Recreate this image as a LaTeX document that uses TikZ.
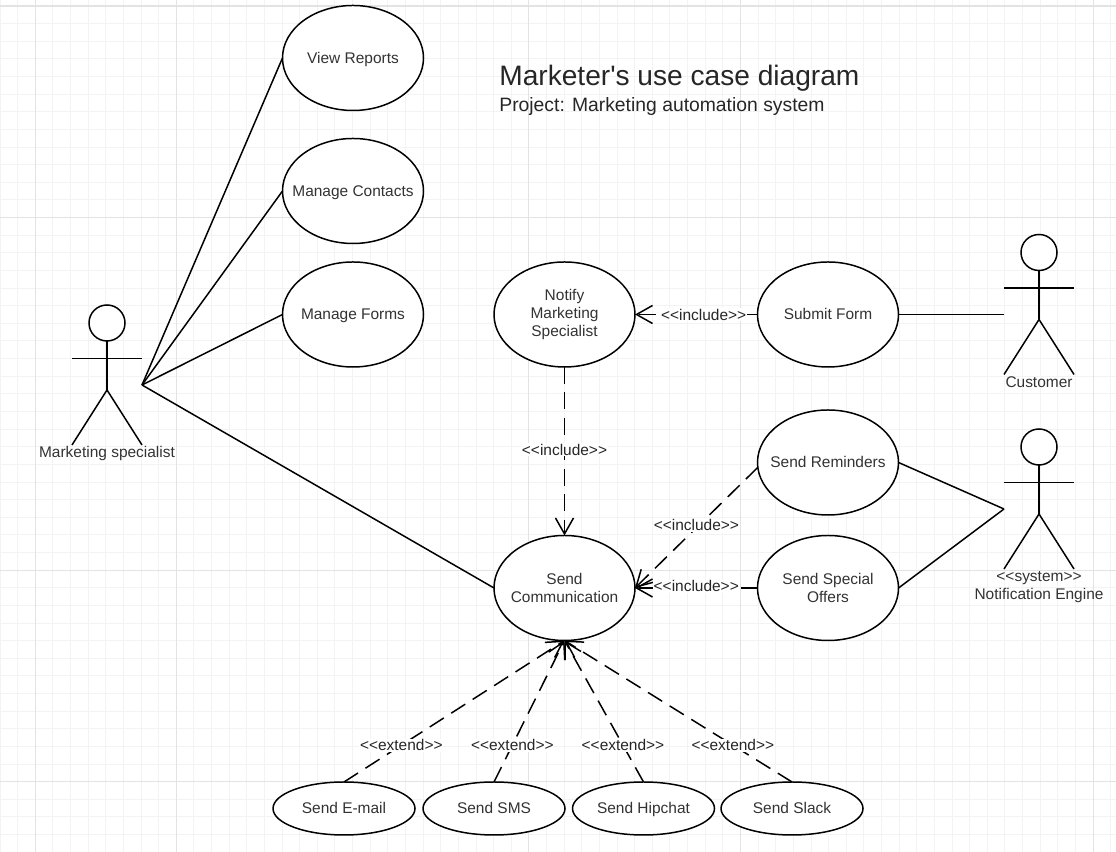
\documentclass[tikz,border=0pt]{standalone}
\usepackage{fontspec}
\setmainfont{Liberation Sans}
\newfontfamily\plainfont{Liberation Sans}
\usetikzlibrary{shapes.geometric,arrows.meta}
\definecolor{gridmin}{HTML}{F3F3F3}
\definecolor{gridmaj}{HTML}{E3E3E3}
\definecolor{ink}{HTML}{333333}
\tikzset{
  actor/.pic={
    \node[draw, circle, fill=white, minimum size=.72cm, inner sep=0pt, outer sep=0pt, line width=.85pt] (-head) at (0,0) {};
    \coordinate (-hip) at (0,-1.34);
    \coordinate (-l) at (-.7,-1.24);
    \coordinate (-r) at (.7,-1.24);
    \draw[line width=.85pt] (-head.south) -- (-hip);
    \draw[line width=.85pt] (-.7,-.71) -- (.7,-.71);
    \draw[line width=.85pt] (-.7,-2.44) -- (-hip) -- (.7,-2.44);
  }
}

\begin{document}
\begin{tikzpicture}[
  font=\fontsize{8.8}{10.5}\selectfont,
  usecase/.style={draw, ellipse, fill=white, text=ink, align=center, minimum width=2.82cm, minimum height=2.1cm,
    inner xsep=-8mm, inner ysep=0pt, outer sep=0pt, line width=.85pt},
  oneline/.style={usecase, text height=6.5pt, text depth=.5pt},
  smallcase/.style={oneline, minimum width=2.84cm, minimum height=1.06cm},
  assoc/.style={line width=.85pt},
  dep/.style={-{Straight Barb[length=3.2mm,width=3.6mm]}, line width=.85pt, dash pattern=on 9.5pt off 5pt},
  lbl/.style={fill=white, inner sep=.5pt, text=black!85},
  actorlbl/.style={text=ink, align=center, inner sep=0pt},
  minline/.style={draw=gridmin, line width=.55pt},
  majline/.style={draw=gridmaj, line width=.6pt},
]
\useasboundingbox (0,0) rectangle (22.32,17.04);

% ---------------- grid
\foreach \i in {0,...,63} \draw[minline] ({\i*.3526},0) -- ({\i*.3526},17.04);
\foreach \j in {0,...,48} \draw[minline] (0,{16.92-\j*.3526}) -- (22.32,{16.92-\j*.3526});
\foreach \i in {2,10,30,42,62} \draw[majline] ({\i*.3526},0) -- ({\i*.3526},17.04);
\foreach \j in {0,12,32,44} \draw[majline] (0,{16.92-\j*.3526}) -- (22.32,{16.92-\j*.3526});

% ---------------- title
\node[anchor=base west, inner sep=0pt, text=black!85, font=\plainfont\fontsize{16}{19}\selectfont] (title) at (9.98,15.32) {Marketer's use case diagram};
\node[anchor=base west, inner sep=0pt, text=black!85, font=\fontsize{11}{13}\selectfont] (subtitle) at (9.98,14.8) {Project: Marketing automation system};

% ---------------- use cases
\node[oneline] (reports)  at (7.06,15.88) {View Reports};
\node[oneline] (contacts) at (7.06,13.22) {Manage Contacts};
\node[oneline] (forms)    at (7.06,10.75) {Manage Forms};
\node[usecase] (notify)   at (11.29,10.75) {Notify\\Marketing\\Specialist};
\node[oneline] (submit)   at (16.56,10.75) {Submit Form};
\node[oneline] (remind)   at (16.56,7.79) {Send Reminders};
\node[usecase] (offers)   at (16.56,5.28) {Send Special\\Offers};
\node[usecase] (comm)     at (11.29,5.28) {Send\\Communication};
\node[smallcase] (email)   at (6.88,.87)  {Send E-mail};
\node[smallcase] (sms)     at (9.88,.87)  {Send SMS};
\node[smallcase] (hipchat) at (12.87,.87) {Send Hipchat};
\node[smallcase] (slack)   at (15.84,.87) {Send Slack};

% ---------------- actors
\pic (mkt)  at (2.14,10.58) {actor};
\pic (cust) at (20.78,11.99) {actor};
\pic (eng)  at (20.78,8.1)  {actor};
\node[actorlbl, anchor=base] (mktlbl)  at (2.14,7.88)  {Marketing specialist};
\node[actorlbl, anchor=base] (custlbl) at (20.78,9.28) {Customer};
\node[actorlbl] (englbl) at (20.78,5.3) {<{}<system>{}>\\Notification Engine};

% ---------------- associations
\draw[assoc] (mkt-r) -- (reports.west);
\draw[assoc] (mkt-r) -- (contacts.west);
\draw[assoc] (mkt-r) -- (forms.west);
\draw[assoc] (mkt-r) -- (comm.west);
\draw[assoc] (submit.east) -- (cust-l);
\draw[assoc] (remind.east) -- (eng-l);
\draw[assoc] (offers.east) -- (eng-l);

% ---------------- include / extend
\draw[dep] (submit.west) -- node[lbl,pos=.44]{<{}<include>{}>} (notify.east);
\draw[dep] (notify.south) -- node[lbl,pos=.49]{<{}<include>{}>} (comm.north);
\draw[dep] (remind.184) -- node[lbl,pos=.5,yshift=1.5pt]{<{}<include>{}>} (comm.east);
\draw[dep] (offers.west) -- node[lbl,pos=.5,yshift=1pt]{<{}<include>{}>} (comm.east);
\draw[dep] (email.north) -- node[lbl,pos=.26]{<{}<extend>{}>} (comm.south);
\draw[dep] (sms.north) -- node[lbl,pos=.26]{<{}<extend>{}>} (comm.south);
\draw[dep] (hipchat.north) -- node[lbl,pos=.26]{<{}<extend>{}>} (comm.south);
\draw[dep] (slack.north) -- node[lbl,pos=.26]{<{}<extend>{}>} (comm.south);

\end{tikzpicture}
\end{document}
